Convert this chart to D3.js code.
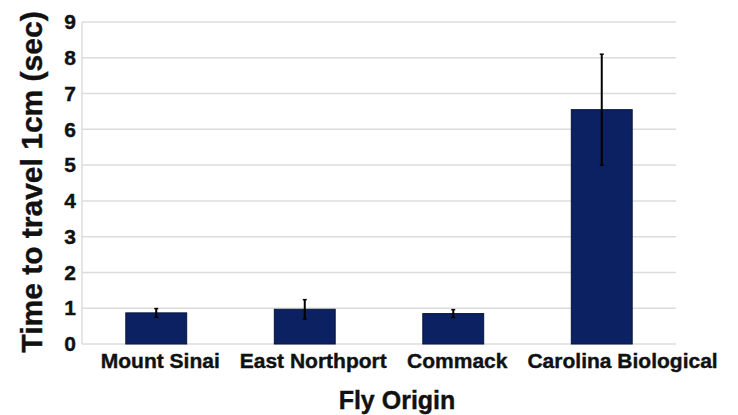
<!DOCTYPE html>
<html>
<head>
<meta charset="utf-8">
<script src="https://cdn.jsdelivr.net/npm/d3@7"></script>
<style>
  html, body { margin: 0; padding: 0; background: #fff; }
  svg { display: block; }
  text { font-family: "Liberation Sans", Arial, sans-serif; font-weight: bold; fill: #111; }
</style>
</head>
<body>
<svg id="chart" width="738" height="415"></svg>
<script>
// Travel time per fly origin (mean and error)
const origins = ["Mount Sinai", "East Northport", "Commack", "Carolina Biological"];
const meanTimes = [0.87, 0.97, 0.85, 6.55];
const errors = [0.12, 0.27, 0.11, 1.55];
const yTicks = [0, 1, 2, 3, 4, 5, 6, 7, 8, 9];

const svg = d3.select("#chart");
const margin = { left: 82, right: 62, top: 22, bottom: 72 };
const W = 738, H = 415;

const x = d3.scaleBand()
  .domain(origins)
  .range([margin.left, W - margin.right])
  .paddingInner(0.59)
  .paddingOuter(0.295);

const y = d3.scaleLinear()
  .domain([0, 9])
  .range([H - margin.bottom + 1, margin.top]);

// horizontal gridlines
svg.append("g")
  .selectAll("line")
  .data(yTicks)
  .join("line")
  .attr("x1", margin.left)
  .attr("x2", W - margin.right)
  .attr("y1", d => y(d))
  .attr("y2", d => y(d))
  .attr("stroke", "#dcdcdc")
  .attr("stroke-width", 1.5);

// left axis line
svg.append("line")
  .attr("x1", margin.left).attr("x2", margin.left)
  .attr("y1", y(9)).attr("y2", y(0))
  .attr("stroke", "#dcdcdc").attr("stroke-width", 1.5);

// y tick labels
const yAxis = d3.axisLeft(y).tickValues(yTicks).tickSize(0).tickPadding(5).tickFormat(d3.format("d"));
const gy = svg.append("g").attr("transform", `translate(${margin.left - 1},0)`).call(yAxis);
gy.select(".domain").remove();
gy.selectAll("text")
  .attr("font-size", 21)
  .attr("font-family", "Liberation Sans, Arial, sans-serif")
  .attr("font-weight", "bold")
  .attr("fill", "#111")
  .attr("stroke", "#111")
  .attr("stroke-width", 0.4);

// bars
svg.append("g")
  .selectAll("rect")
  .data(origins)
  .join("rect")
  .attr("x", d => x(d))
  .attr("width", x.bandwidth())
  .attr("y", (d, i) => y(meanTimes[i]))
  .attr("height", (d, i) => y(0) - y(meanTimes[i]))
  .attr("fill", "#0c2162")
  .attr("stroke", "#07163f")
  .attr("stroke-width", 1);

// error bars
const eb = svg.append("g")
  .selectAll("g")
  .data(origins)
  .join("g");
eb.append("line")
  .attr("x1", d => x(d) + x.bandwidth() / 2)
  .attr("x2", d => x(d) + x.bandwidth() / 2)
  .attr("y1", (d, i) => y(meanTimes[i] + errors[i]))
  .attr("y2", (d, i) => y(meanTimes[i] - errors[i]))
  .attr("stroke", "#000")
  .attr("stroke-width", 2);
eb.each(function (d, i) {
  const g = d3.select(this);
  const cx = x(d) + x.bandwidth() / 2;
  [meanTimes[i] + errors[i], meanTimes[i] - errors[i]].forEach(v => {
    g.append("line")
      .attr("x1", cx - 2).attr("x2", cx + 2)
      .attr("y1", y(v)).attr("y2", y(v))
      .attr("stroke", "#000").attr("stroke-width", 1.5);
  });
});

// category labels
const xAxis = d3.axisBottom(x).tickSize(0).tickPadding(9);
const gx = svg.append("g").attr("transform", `translate(0,${y(0)})`).call(xAxis);
gx.select(".domain").remove();
const labels = gx.selectAll("text")
  .attr("font-size", 21)
  .attr("font-family", "Liberation Sans, Arial, sans-serif")
  .attr("font-weight", "bold")
  .attr("fill", "#111")
  .attr("stroke", "#111")
  .attr("stroke-width", 0.4);

// nudge labels apart so neighbours keep a clear gap
let prevEnd = -Infinity;
labels.each(function (d) {
  const w = this.getComputedTextLength();
  const cx = x(d) + x.bandwidth() / 2 + 4;
  let start = Math.max(cx - w / 2, prevEnd + 20);
  d3.select(this).attr("dx", start + w / 2 - (x(d) + x.bandwidth() / 2));
  prevEnd = start + w;
});

// axis titles
svg.append("text")
  .attr("x", 397)
  .attr("y", 409)
  .attr("text-anchor", "middle")
  .attr("font-size", 25)
  .attr("stroke", "#111")
  .attr("stroke-width", 0.4)
  .text("Fly Origin");

svg.append("text")
  .attr("transform", "translate(42,182) rotate(-90)")
  .attr("text-anchor", "middle")
  .attr("font-size", 30)
  .attr("stroke", "#111")
  .attr("stroke-width", 0.4)
  .text("Time to travel 1cm (sec)");
</script>
</body>
</html>
